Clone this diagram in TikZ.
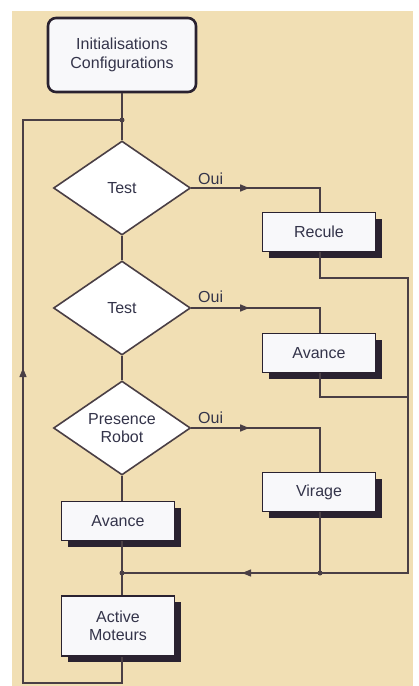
\documentclass[tikz,border=0pt]{standalone}
\usepackage{fontspec}
\setmainfont{Liberation Sans}
\usetikzlibrary{shapes.geometric,arrows.meta,shadows,calc}
\definecolor{bg}{HTML}{F1DFB4}
\definecolor{ln}{HTML}{4A3F45}
\definecolor{txt}{HTML}{34344A}
\definecolor{boxfill}{HTML}{F8F8FA}
\definecolor{shd}{HTML}{2A2230}
\tikzset{
  every node/.style={font=\fontsize{16}{18}\selectfont, text=txt},
  conn/.style={draw=ln, line width=1.3pt},
  procbox/.style={draw=shd, line width=1.6pt, fill=boxfill, minimum width=113pt, minimum height=39pt, inner sep=0pt,
    drop shadow={shadow xshift=6pt, shadow yshift=-6pt, fill=shd, opacity=1}},
  decbox/.style={diamond, draw=ln, line width=1.6pt, fill=white, minimum width=137pt, minimum height=94pt, inner sep=0pt, aspect=1.46},
  initbox/.style={draw=shd, line width=2.6pt, rounded corners=8pt, fill=boxfill, minimum width=148pt, minimum height=74pt, align=center},
  jdot/.style={circle, fill=ln, inner sep=0pt, minimum size=5pt},
  midarrow/.style={-{Triangle[length=9pt,width=7pt]}},
  lbl/.style={font=\fontsize{16}{18}\selectfont, text=txt, inner sep=0pt}
}
\begin{document}
\begin{tikzpicture}[x=1pt,y=-1pt]
\useasboundingbox (0,0) rectangle (419,686);
\fill[bg] (12,11) rectangle (413,686);

% nodes
\node[initbox] (init) at (122,55) {Initialisations\\[1pt]Configurations};
\node[decbox] (t1) at (122,188) {Test};
\node[decbox] (t2) at (122,308) {Test};
\node[decbox, align=center] (t3) at (122,428) {Presence\\Robot};
\node[procbox] (recule) at (319,232) {Recule};
\node[procbox] (avr) at (319,353) {Avance};
\node[procbox] (virage) at (319,492) {Virage};
\node[procbox] (avl) at (118,521) {Avance};
\node[procbox, minimum height=60pt, align=center] (act) at (118,626) {Active\\Moteurs};

\coordinate (j0) at (122,120);
\coordinate (j1) at (122,573);
\coordinate (j2) at (320,573);
\coordinate (rr) at (408,573);
\coordinate (c1) at (320,188);
\coordinate (c2) at (320,308);
\coordinate (c3) at (320,428);
\coordinate (r1) at (320,278);
\coordinate (r1e) at (408,278);
\coordinate (r2) at (320,397);
\coordinate (r2e) at (408,397);
\coordinate (bl) at (122,683);
\coordinate (bll) at (23,683);
\coordinate (tl) at (23,120);

% connectors
\draw[conn] (init.south) -- (j0) -- (t1.north);
\draw[conn] (t1.south) -- (t2.north);
\draw[conn] (t2.south) -- (t3.north);
\draw[conn] (t3.south) -- (avl.north -| t3.south);
\draw[conn] (avl.south -| j1) -- (j1) -- (act.north -| j1);
\draw[conn] (act.south -| bl) -- (bl) -- (bll) -- (tl) -- (j0);
\draw[conn, midarrow] (bll) -- (23,368);

\foreach \d/\c/\b in {t1/c1/recule, t2/c2/avr, t3/c3/virage}{
  \draw[conn] (\d.east) -- (\c) -- (\b.north -| \c);
  \draw[conn, midarrow] (\d.east) -- ($(\d.east)!0.45!(\c)$);
}
\draw[conn] (recule.south -| r1) -- (r1) -- (r1e) -- (rr) -- (j2) -- (j1);
\draw[conn] (avr.south -| r2) -- (r2) -- (r2e);
\draw[conn] (virage.south -| j2) -- (j2);
\draw[conn, midarrow] (j2) -- (242,573);

\node[jdot] at (j0) {};
\node[jdot] at (j1) {};
\node[jdot] at (j2) {};

\node[lbl, anchor=base west] at (198,184) {Oui};
\node[lbl, anchor=base west] at (198,302) {Oui};
\node[lbl, anchor=base west] at (198,423) {Oui};
\end{tikzpicture}
\end{document}
